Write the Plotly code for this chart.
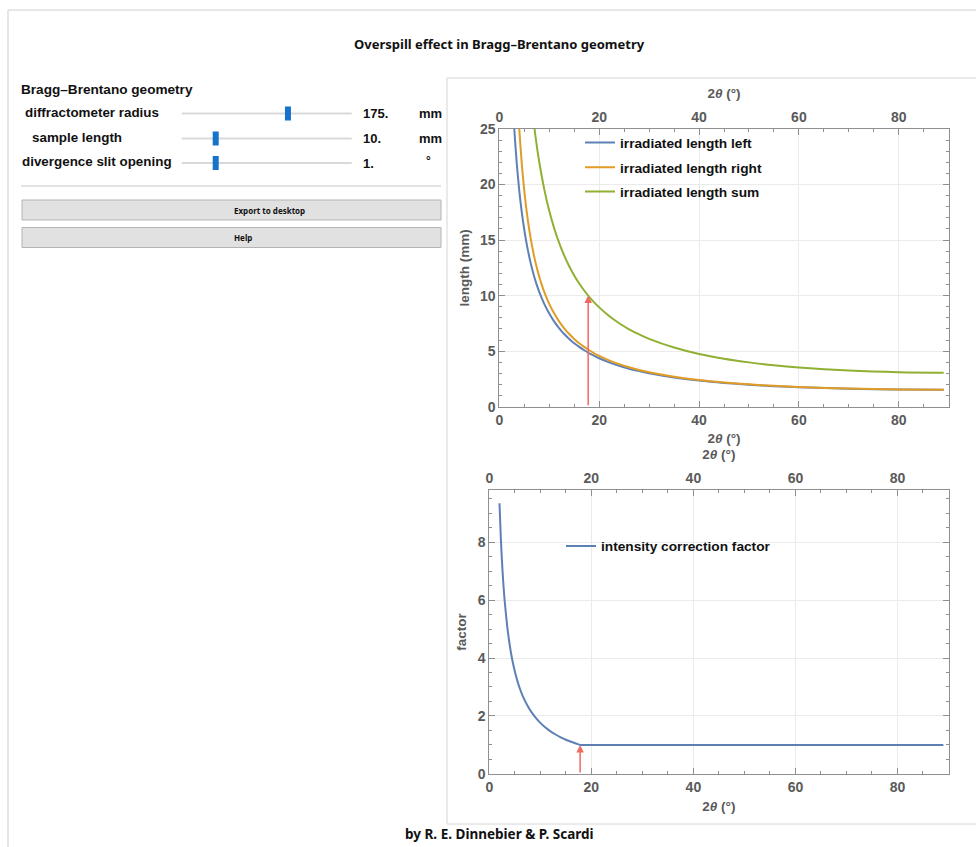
import plotly.graph_objects as go

W, H = 976, 847

# ---- instrument settings shown in the control panel ----
radius_mm = 175
sample_len_mm = 10
slit_deg = 1

slider_names = ["diffractometer radius", "sample length", "divergence slit opening"]
slider_values = [radius_mm, sample_len_mm, slit_deg]
slider_lo = [100, 5, 0.25]
slider_hi = [220, 30, 4.0]
slider_units = ["mm", "mm", "°"]
value_text = ["175.", "10.", "1."]

# ---- irradiated length vs 2θ (mm) ----
two_theta = [2.5, 3, 3.5, 4, 4.5, 5, 5.5, 6, 6.5, 7, 7.5, 8,
             9, 10, 11, 12, 13, 14, 15, 16, 17, 18, 19, 20,
             22, 24, 26, 28, 30, 35, 40, 45, 50, 55, 60, 70, 80, 89]
len_left = [29.18, 25.02, 21.89, 19.46, 17.52, 15.93, 14.61, 13.49, 12.53, 11.70, 10.97, 10.33,
            9.25, 8.38, 7.66, 7.06, 6.54, 6.10, 5.71, 5.38, 5.08, 4.81, 4.58, 4.36,
            3.99, 3.68, 3.42, 3.20, 3.01, 2.63, 2.35, 2.14, 1.98, 1.85, 1.75, 1.62, 1.55, 1.53]
len_right = [43.76, 35.01, 29.18, 25.02, 21.89, 19.46, 17.52, 15.93, 14.61, 13.49, 12.53, 11.70,
             10.33, 9.25, 8.38, 7.66, 7.06, 6.54, 6.10, 5.71, 5.38, 5.08, 4.81, 4.58,
             4.17, 3.83, 3.55, 3.31, 3.10, 2.70, 2.40, 2.18, 2.01, 1.88, 1.77, 1.63, 1.55, 1.53]
len_sum = [72.94, 60.03, 51.07, 44.48, 39.42, 35.40, 32.13, 29.42, 27.14, 25.19, 23.50, 22.03,
           19.59, 17.63, 16.04, 14.72, 13.60, 12.64, 11.81, 11.09, 10.46, 9.89, 9.39, 8.94,
           8.16, 7.51, 6.97, 6.51, 6.11, 5.33, 4.75, 4.32, 3.99, 3.73, 3.53, 3.25, 3.10, 3.06]

# ---- intensity correction factor vs 2θ ----
factor_2theta = [2, 2.25, 2.5, 2.75, 3, 3.5, 4, 4.5, 5, 5.5, 6, 6.5, 7, 7.5, 8,
                 9, 10, 11, 12, 13, 14, 15, 16, 17, 17.8, 18, 20, 25, 30, 50, 70, 89]
factor = [9.34, 8.18, 7.29, 6.58, 6.00, 5.11, 4.45, 3.94, 3.54, 3.21, 2.94, 2.71, 2.52, 2.35, 2.20,
          1.96, 1.76, 1.60, 1.47, 1.36, 1.26, 1.18, 1.11, 1.05, 1.00, 1.00, 1.00, 1.00, 1.00,
          1.00, 1.00, 1.00]

# angle at which the beam footprint equals the sample length
overspill_2theta = 17.8

BLUE, ORANGE, GREEN = "#5E81B5", "#E19C24", "#8FB032"
ARROW = "#F06A60"
FRAME = "#8f8f8f"
TICKTXT = "#5a5a5a"
UIFONT = "Noto Sans"
PLOTFONT = "Liberation Sans"


def px(x):
    return x / W


def py(y):
    return 1 - y / H


fig = go.Figure()

curve = dict(mode="lines", line_shape="spline")
fig.add_trace(go.Scatter(x=two_theta, y=len_left, name="irradiated length left",
                         line=dict(color=BLUE, width=2, smoothing=0.8), xaxis="x", yaxis="y",
                         legend="legend", **curve))
fig.add_trace(go.Scatter(x=two_theta, y=len_right, name="irradiated length right",
                         line=dict(color=ORANGE, width=2, smoothing=0.8), xaxis="x", yaxis="y",
                         legend="legend2", **curve))
fig.add_trace(go.Scatter(x=two_theta, y=len_sum, name="irradiated length sum",
                         line=dict(color=GREEN, width=2, smoothing=0.8), xaxis="x", yaxis="y",
                         legend="legend3", **curve))
fig.add_trace(go.Scatter(x=factor_2theta, y=factor, name="intensity correction factor",
                         line=dict(color=BLUE, width=2, smoothing=0.6), xaxis="x3", yaxis="y2",
                         legend="legend4", **curve))

# the top frame axes carry the same 2θ scale; bind a transparent copy so they render
fig.add_trace(go.Scatter(x=two_theta, y=len_sum, mode="lines", opacity=0, showlegend=False,
                         hoverinfo="skip", xaxis="x2", yaxis="y"))
fig.add_trace(go.Scatter(x=factor_2theta, y=factor, mode="lines", opacity=0, showlegend=False,
                         hoverinfo="skip", xaxis="x4", yaxis="y2"))

tickfont = dict(family=PLOTFONT, size=14, color=TICKTXT, weight="bold")
titlefont = dict(family=PLOTFONT, size=13.5, color=TICKTXT, weight="bold")
xtitle = "2<i>θ</i> (°)"


def xax(domain, anchor, side, title, grid, overlay=None):
    d = dict(domain=domain, anchor=anchor, side=side, range=[0, 90], tick0=0, dtick=20,
             ticks="inside", ticklen=6, tickcolor=FRAME, showline=True, linecolor=FRAME,
             linewidth=1, showgrid=grid, gridcolor="#ebebeb", zeroline=False,
             minor=dict(dtick=5, ticks="inside", ticklen=3, tickcolor=FRAME, showgrid=False),
             tickfont=tickfont, title=dict(text=title, font=titlefont, standoff=7),
             automargin=False)
    if overlay:
        d["overlaying"] = overlay
    return d


def yax(domain, anchor, rng, dtick, minor, title):
    return dict(domain=domain, anchor=anchor, range=rng, tick0=0, dtick=dtick,
                ticks="inside", ticklen=6, tickcolor=FRAME, showline=True, linecolor=FRAME,
                linewidth=1, mirror="ticks", showgrid=True, gridcolor="#ebebeb", zeroline=False,
                minor=dict(dtick=minor, ticks="inside", ticklen=3, tickcolor=FRAME, showgrid=False),
                tickfont=tickfont, title=dict(text=title, font=titlefont, standoff=7),
                automargin=False)


top_x = [px(499.3), px(948.7)]
top_y = [py(406.7), py(129)]
bot_x = [px(489.3), px(948.5)]
bot_y = [py(773.9), py(490)]

legend_common = dict(bgcolor="rgba(0,0,0,0)", borderwidth=0, xanchor="left", yanchor="middle",
                     font=dict(family=PLOTFONT, size=13.7, color="#111111", weight="bold"))

fig.update_layout(
    width=W, height=H, margin=dict(l=0, r=0, t=0, b=0),
    paper_bgcolor="white", plot_bgcolor="white", showlegend=True,
    xaxis=xax(top_x, "y", "bottom", xtitle, True),
    xaxis2=xax(top_x, "y", "top", xtitle, False, overlay="x"),
    yaxis=yax(top_y, "x", [0, 25], 5, 1, "length (mm)"),
    xaxis3=xax(bot_x, "y2", "bottom", xtitle, True),
    xaxis4=xax(bot_x, "y2", "top", xtitle, False, overlay="x3"),
    yaxis2=yax(bot_y, "x3", [0, 9.8], 2, 0.5, "factor"),
    legend=dict(x=px(580), y=py(142.7), **legend_common),
    legend2=dict(x=px(580), y=py(167.3), **legend_common),
    legend3=dict(x=px(580), y=py(191.7), **legend_common),
    legend4=dict(x=px(561), y=py(546), **legend_common),
)

# arrows marking where the footprint equals the sample length
fig.add_annotation(x=overspill_2theta, y=sample_len_mm, ax=overspill_2theta, ay=0,
                   xref="x", yref="y", axref="x", ayref="y", showarrow=True,
                   arrowhead=2, arrowsize=1, arrowwidth=1.5, arrowcolor=ARROW, text="")
fig.add_annotation(x=overspill_2theta, y=1, ax=overspill_2theta, ay=0,
                   xref="x3", yref="y2", axref="x3", ayref="y2", showarrow=True,
                   arrowhead=2, arrowsize=1, arrowwidth=1.5, arrowcolor=ARROW, text="")

shapes = []
annots = []


def text(x, y, s, size, family=UIFONT, color="#111111", xanchor="left", bold=True):
    annots.append(dict(x=px(x), y=py(y), xref="paper", yref="paper", text=s, showarrow=False,
                       xanchor=xanchor, yanchor="middle",
                       font=dict(family=family, size=size, color=color,
                                 weight="bold" if bold else "normal")))


def line(x0, y0, x1, y1, color, width=1):
    shapes.append(dict(type="line", xref="paper", yref="paper", x0=px(x0), y0=py(y0),
                       x1=px(x1), y1=py(y1), line=dict(color=color, width=width)))


def rect(x0, y0, x1, y1, fill, border, width=1):
    shapes.append(dict(type="rect", xref="paper", yref="paper", x0=px(x0), y0=py(y0),
                       x1=px(x1), y1=py(y1), fillcolor=fill, line=dict(color=border, width=width)))


# outer panel frame
line(8, 10, 976, 10, "#cfcfcf")
line(8, 10, 8, 847, "#cfcfcf")
# graphics pane frame
rect(447, 78, 990, 824, "rgba(0,0,0,0)", "#d6d6d6")

# heading and credits
text(500, 44, "Overspill effect in Bragg–Brentano geometry", 13, xanchor="center")
text(499, 834, "by R. E. Dinnebier &amp; P. Scardi", 13.5, xanchor="center")

# control panel
text(19, 89, "Bragg–Brentano geometry", 13.6, family=PLOTFONT)
label_x = [22.5, 30.2, 20.2]
row_y = [113.5, 138.5, 163]
track_x0, track_x1 = 181.7, 351.7
for i, name in enumerate(slider_names):
    text(label_x[i], row_y[i] - 1.5, name, 13.4, family=PLOTFONT)
    line(track_x0, row_y[i], track_x1, row_y[i], "#d9d9d9", 2)
    frac = (slider_values[i] - slider_lo[i]) / (slider_hi[i] - slider_lo[i])
    cx = track_x0 + frac * (track_x1 - track_x0)
    rect(cx - 3, row_y[i] - 7, cx + 3, row_y[i] + 7, "#1673C9", "#1673C9", 0)
    text(361, row_y[i], value_text[i], 13, family=PLOTFONT)
    if slider_units[i] == "°":
        text(428, row_y[i] - 2, slider_units[i], 12, family=PLOTFONT, xanchor="center")
    else:
        text(416.5, row_y[i], slider_units[i], 13, family=PLOTFONT)

line(21, 186, 441, 186, "#dadada", 1.5)
rect(22, 200, 441, 220, "#e1e1e1", "#b4b4b4")
text(231.5, 210.5, "Export to desktop", 8)
rect(22, 227.5, 441, 247.5, "#e1e1e1", "#b4b4b4")
text(231.5, 237.5, "Help", 8)

fig.update_layout(shapes=shapes, annotations=list(fig.layout.annotations) + annots)

fig.write_html("out.html")
